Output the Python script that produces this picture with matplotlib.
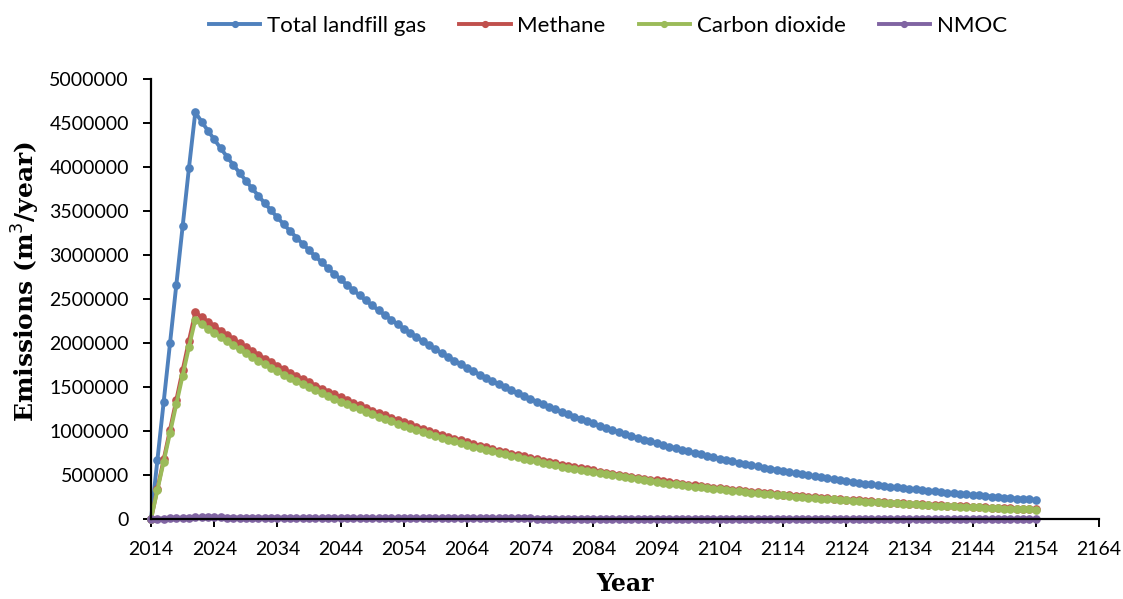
#Libraries
import numpy as np
import matplotlib.pyplot as plt
from matplotlib.ticker import FuncFormatter

#Data (thousand m3/year), one value per year from 2014
total_lfg = [0, 665, 1330, 1995, 2660, 3325, 3990,
	4620, 4515, 4412, 4312, 4214, 4118, 4024, 3933, 3844, 3756, 3671, 3587, 3506, 3426, 3348, 3272, 3198, 3125, 3054, 2984,
	2917, 2850, 2785, 2722, 2660, 2600, 2541, 2483, 2426, 2371, 2317, 2265, 2213, 2163, 2114, 2066, 2019, 1973, 1928, 1884,
	1841, 1799, 1758, 1718, 1679, 1641, 1604, 1567, 1532, 1497, 1463, 1430, 1397, 1365, 1334, 1304, 1274, 1245, 1217, 1189,
	1162, 1136, 1110, 1085, 1060, 1036, 1012, 989, 967, 945, 923, 902, 882, 862, 842, 823, 804, 786, 768, 751,
	734, 717, 701, 685, 669, 654, 639, 625, 610, 597, 583, 570, 557, 544, 532, 520, 508, 496, 485, 474,
	463, 453, 442, 432, 422, 413, 403, 394, 385, 377, 368, 360, 351, 343, 336, 328, 321, 313, 306, 299,
	292, 286, 279, 273, 267, 261, 255, 249, 243, 238, 232, 227, 222, 217]
methane = [0, 338, 676, 1013, 1351, 1689, 2027,
	2347, 2294, 2241, 2190, 2141, 2092, 2044, 1998, 1953, 1908, 1865, 1822, 1781, 1740, 1701, 1662, 1625, 1588, 1551, 1516,
	1482, 1448, 1415, 1383, 1351, 1321, 1291, 1261, 1232, 1204, 1177, 1151, 1124, 1099, 1074, 1050, 1026, 1002, 979, 957,
	935, 914, 893, 873, 853, 834, 815, 796, 778, 760, 743, 726, 710, 693, 678, 662, 647, 632, 618, 604,
	590, 577, 564, 551, 538, 526, 514, 502, 491, 480, 469, 458, 448, 438, 428, 418, 408, 399, 390, 382,
	373, 364, 356, 348, 340, 332, 325, 318, 310, 303, 296, 290, 283, 276, 270, 264, 258, 252, 246, 241,
	235, 230, 225, 219, 214, 210, 205, 200, 196, 192, 187, 183, 178, 174, 171, 167, 163, 159, 155, 152,
	148, 145, 142, 139, 136, 133, 130, 126, 123, 121, 118, 115, 113, 110]
carbon_dioxide = [0, 326, 652, 978, 1303, 1629, 1955,
	2264, 2212, 2162, 2113, 2065, 2018, 1972, 1927, 1884, 1840, 1799, 1758, 1718, 1679, 1641, 1603, 1567, 1531, 1496, 1462,
	1429, 1397, 1365, 1334, 1303, 1274, 1245, 1217, 1189, 1162, 1135, 1110, 1084, 1060, 1036, 1012, 989, 967, 945, 923,
	902, 882, 861, 842, 823, 804, 786, 768, 751, 734, 717, 701, 685, 669, 654, 639, 624, 610, 596, 583,
	569, 557, 544, 532, 519, 508, 496, 485, 474, 463, 452, 442, 432, 422, 413, 403, 394, 385, 376, 368,
	360, 351, 343, 336, 328, 320, 313, 306, 299, 293, 286, 279, 273, 267, 261, 255, 249, 243, 238, 232,
	227, 222, 217, 212, 207, 202, 197, 193, 189, 185, 180, 176, 172, 168, 165, 161, 157, 153, 150, 147,
	143, 140, 137, 134, 131, 128, 125, 122, 119, 117, 114, 111, 109, 106]
nmoc = [0, 2.7, 5.3, 8.0, 10.6, 13.3, 16.0,
	18.5, 18.1, 17.6, 17.2, 16.9, 16.5, 16.1, 15.7, 15.4, 15.0, 14.7, 14.3, 14.0, 13.7, 13.4, 13.1, 12.8, 12.5, 12.2, 11.9,
	11.7, 11.4, 11.1, 10.9, 10.6, 10.4, 10.2, 9.9, 9.7, 9.5, 9.3, 9.1, 8.9, 8.7, 8.5, 8.3, 8.1, 7.9, 7.7, 7.5,
	7.4, 7.2, 7.0, 6.9, 6.7, 6.6, 6.4, 6.3, 6.1, 6.0, 5.9, 5.7, 5.6, 5.5, 5.3, 5.2, 5.1, 5.0, 4.9, 4.8,
	4.6, 4.5, 4.4, 4.3, 4.2, 4.1, 4.0, 4.0, 3.9, 3.8, 3.7, 3.6, 3.5, 3.4, 3.4, 3.3, 3.2, 3.1, 3.1, 3.0,
	2.9, 2.9, 2.8, 2.7, 2.7, 2.6, 2.6, 2.5, 2.4, 2.4, 2.3, 2.3, 2.2, 2.2, 2.1, 2.1, 2.0, 2.0, 1.9, 1.9,
	1.9, 1.8, 1.8, 1.7, 1.7, 1.7, 1.6, 1.6, 1.5, 1.5, 1.5, 1.4, 1.4, 1.4, 1.3, 1.3, 1.3, 1.3, 1.2, 1.2,
	1.2, 1.1, 1.1, 1.1, 1.1, 1.0, 1.0, 1.0, 1.0, 0.9, 0.9, 0.9, 0.9, 0.9]

labels = ['Total landfill gas', 'Methane', 'Carbon dioxide', 'NMOC']
series = [total_lfg, methane, carbon_dioxide, nmoc]
colors = ['#4F81BD', '#C0504D', '#9BBB59', '#8064A2']
start_year = 2014
x_ticks = list(range(2014, 2165, 10))
y_ticks = list(range(0, 5000001, 500000))

#Figure
plt.rcParams['font.family'] = ['Lato', 'DejaVu Sans']
fig = plt.figure(figsize=(11.23, 5.99), dpi=100)
ax = fig.add_axes([0.1345, 0.1336, 0.8441, 0.7346])

for lab, s, c in zip(labels, series, colors):
	yrs = np.arange(start_year, start_year + len(s))
	ax.plot(yrs, np.array(s) * 1000.0, '-o', color=c, lw=2.8, ms=5.2, label=lab, clip_on=False)

ax.set_xlim(2014, 2164)
ax.set_ylim(0, 5000000)
ax.set_xticks(x_ticks)
ax.set_yticks(y_ticks)
ax.yaxis.set_major_formatter(FuncFormatter(lambda v, p: '%d' % v))
ax.spines['top'].set_visible(False)
ax.spines['right'].set_visible(False)
ax.spines['left'].set_linewidth(1.6)
ax.spines['bottom'].set_linewidth(1.6)
ax.tick_params(axis='both', direction='out', length=6, width=1.4, labelsize=14)
ax.tick_params(axis='x', pad=10)
ax.tick_params(axis='y', pad=10)
ax.set_xlabel('Year', family='DejaVu Serif', fontweight='bold', fontsize=17, labelpad=10)
ax.set_ylabel('Emissions (m$^3$/year)', family='DejaVu Serif', fontweight='bold', fontsize=18)
ax.yaxis.set_label_coords(-0.115, 0.539)

leg = ax.legend(loc='center', bbox_to_anchor=(0.482, 1.12), ncol=4, frameon=False, fontsize=16,
	handlelength=2.3, columnspacing=1.5, handletextpad=0.3, markerscale=0.8)

fig.savefig('out.png', dpi=100)
